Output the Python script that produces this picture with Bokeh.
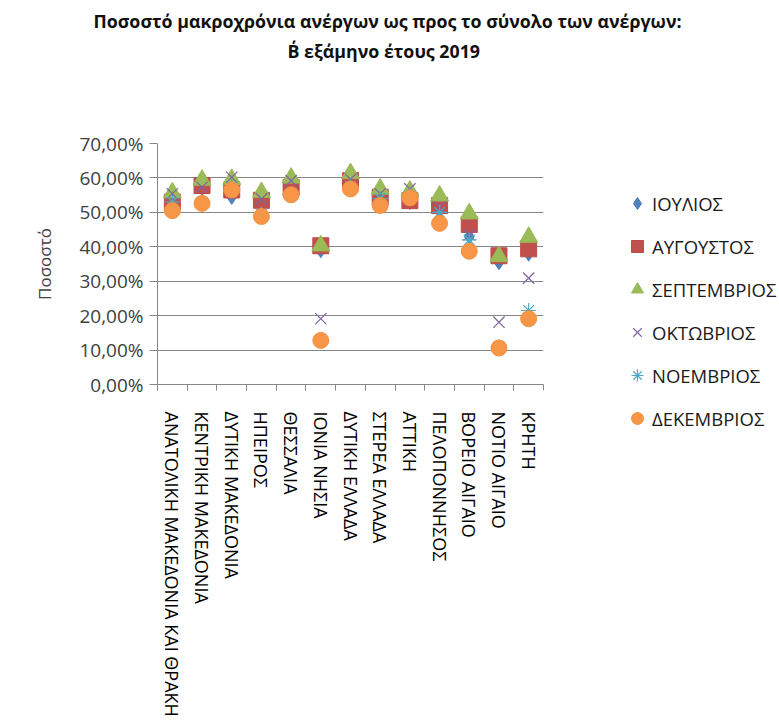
from bokeh.plotting import figure
from bokeh.models import Range1d, FixedTicker, Legend, LegendItem, Title
from bokeh.embed import file_html
from bokeh.resources import INLINE

categories = ["ΑΝΑΤΟΛΙΚΗ ΜΑΚΕΔΟΝΙΑ ΚΑΙ ΘΡΑΚΗ", "ΚΕΝΤΡΙΚΗ ΜΑΚΕΔΟΝΙΑ", "ΔΥΤΙΚΗ ΜΑΚΕΔΟΝΙΑ",
              "ΗΠΕΙΡΟΣ", "ΘΕΣΣΑΛΙΑ", "ΙΟΝΙΑ ΝΗΣΙΑ", "ΔΥΤΙΚΗ ΕΛΛΑΔΑ", "ΣΤΕΡΕΑ ΕΛΛΑΔΑ",
              "ΑΤΤΙΚΗ", "ΠΕΛΟΠΟΝΝΗΣΟΣ", "ΒΟΡΕΙΟ ΑΙΓΑΙΟ", "ΝΟΤΙΟ ΑΙΓΑΙΟ", "ΚΡΗΤΗ"]

months = ["ΙΟΥΛΙΟΣ", "ΑΥΓΟΥΣΤΟΣ", "ΣΕΠΤΕΜΒΡΙΟΣ", "ΟΚΤΩΒΡΙΟΣ", "ΝΟΕΜΒΡΙΟΣ", "ΔΕΚΕΜΒΡΙΟΣ"]

jul = [53.5, 57.0, 54.5, 52.0, 57.0, 39.0, 58.0, 54.0, 53.0, 50.5, 43.0, 35.5, 38.0]
aug = [53.0, 57.8, 56.5, 53.5, 57.2, 40.3, 59.2, 54.4, 53.4, 52.0, 46.5, 37.4, 39.4]
sep = [55.7, 59.4, 59.6, 55.8, 60.0, 40.3, 61.3, 56.8, 56.2, 54.8, 49.6, 37.2, 42.8]
oct_ = [55.4, 57.3, 60.2, 53.9, 59.2, 19.1, 59.6, 55.4, 56.8, 51.5, 43.5, 18.1, 30.9]
nov = [53.0, 53.0, 57.5, 49.5, 55.5, 13.0, 57.5, 54.0, 55.0, 50.0, 42.0, 11.0, 21.5]
dec = [50.5, 52.6, 56.5, 48.8, 55.1, 12.8, 56.8, 52.0, 54.2, 46.8, 38.7, 10.6, 19.1]

y_ticks = [0, 10, 20, 30, 40, 50, 60, 70]
y_tick_labels = ["0,00%", "10,00%", "20,00%", "30,00%", "40,00%", "50,00%", "60,00%", "70,00%"]

title_lines = ["Ποσοστό μακροχρόνια ανέργων ως προς το σύνολο των ανέργων:",
               "Β΄ εξάμηνο έτους 2019"]
y_label = "Ποσοστό"

FONT = "Open Sans"
GRAY = "#868686"

xs = [i + 1 for i in range(len(categories))]

p = figure(frame_width=386, frame_height=241, output_backend="svg", toolbar_location=None,
           x_range=Range1d(0.5, len(categories) + 0.5), y_range=Range1d(0, 70),
           min_border_left=157, min_border_right=236, min_border_top=143,
           min_border_bottom=338)
p.outline_line_color = None
p.background_fill_color = "white"
p.border_fill_color = "white"

# axes
p.xaxis.ticker = FixedTicker(ticks=xs, minor_ticks=[x - 0.5 for x in xs] + [xs[-1] + 0.5])
p.xaxis.major_label_overrides = {x: c for x, c in zip(xs, categories)}
p.xaxis.major_label_orientation = "vertical"
p.xaxis.major_tick_out = 0
p.xaxis.major_tick_in = 0
p.xaxis.minor_tick_out = 6
p.xaxis.minor_tick_in = 0
p.xaxis.minor_tick_line_color = GRAY
p.xaxis.major_label_standoff = 21
p.xaxis.major_label_text_font = FONT
p.xaxis.major_label_text_font_size = "18px"
p.xaxis.major_label_text_color = "#000000"
p.xaxis.axis_line_color = GRAY

p.yaxis.ticker = FixedTicker(ticks=y_ticks)
p.yaxis.major_label_overrides = {t: l for t, l in zip(y_ticks, y_tick_labels)}
p.yaxis.major_tick_out = 8
p.yaxis.major_tick_in = 0
p.yaxis.minor_tick_out = 0
p.yaxis.minor_tick_in = 0
p.yaxis.major_tick_line_color = GRAY
p.yaxis.axis_line_color = GRAY
p.yaxis.major_label_standoff = 6
p.yaxis.major_label_text_font = FONT
p.yaxis.major_label_text_font_size = "19px"
p.yaxis.major_label_text_color = "#404040"
p.yaxis.axis_label = y_label
p.yaxis.axis_label_text_font = FONT
p.yaxis.axis_label_text_font_style = "normal"
p.yaxis.axis_label_text_font_size = "17px"
p.yaxis.axis_label_text_color = "#404040"
p.yaxis.axis_label_standoff = 20

p.xgrid.grid_line_color = None
p.ygrid.grid_line_color = GRAY
p.ygrid.ticker = FixedTicker(ticks=y_ticks)

# series
r1 = p.scatter(xs, jul, marker="diamond", size=15, fill_color="#4F81BD", line_color="#4A7EBB")
r2 = p.scatter(xs, aug, marker="square", size=16, fill_color="#C0504D", line_color="#BE4B48")
r3 = p.scatter(xs, sep, marker="triangle", size=18, fill_color="#9BBB59", line_color="#98B954")
r4 = p.scatter(xs, oct_, marker="x", size=16, line_color="#8064A2", line_width=1.2)
r5 = p.scatter(xs, nov, marker="asterisk", size=15, line_color="#4BACC6", line_width=1.2)
r6 = p.scatter(xs, dec, marker="circle", size=16, fill_color="#F79646", line_color="#F69240")

renderers = [r1, r2, r3, r4, r5, r6]
legend = Legend(items=[LegendItem(label=m, renderers=[r]) for m, r in zip(months, renderers)],
                location=(79, -51))
legend.border_line_color = None
legend.background_fill_alpha = 0
legend.padding = 0
legend.margin = 0
legend.glyph_width = 30
legend.glyph_height = 34
legend.label_height = 34
legend.spacing = 9
legend.label_standoff = 0
legend.label_text_font = FONT
legend.label_text_font_size = "18.5px"
legend.label_text_color = "#1a1a1a"
p.add_layout(legend, "right")

# title: spacer closest to the plot, then line 2, then line 1
p.title.text = ""
p.add_layout(Title(text=" ", text_font_size="10px", standoff=66), "above")
p.add_layout(Title(text=title_lines[1], align="left", offset=130, standoff=4,
                   text_font=FONT, text_font_style="bold", text_font_size="17.8px",
                   text_color="#111111"), "above")
p.add_layout(Title(text=title_lines[0], align="left", offset=-64, standoff=4,
                   text_font=FONT, text_font_style="bold", text_font_size="17.8px",
                   text_color="#111111"), "above")

open("out.html", "w").write(file_html(p, INLINE))
